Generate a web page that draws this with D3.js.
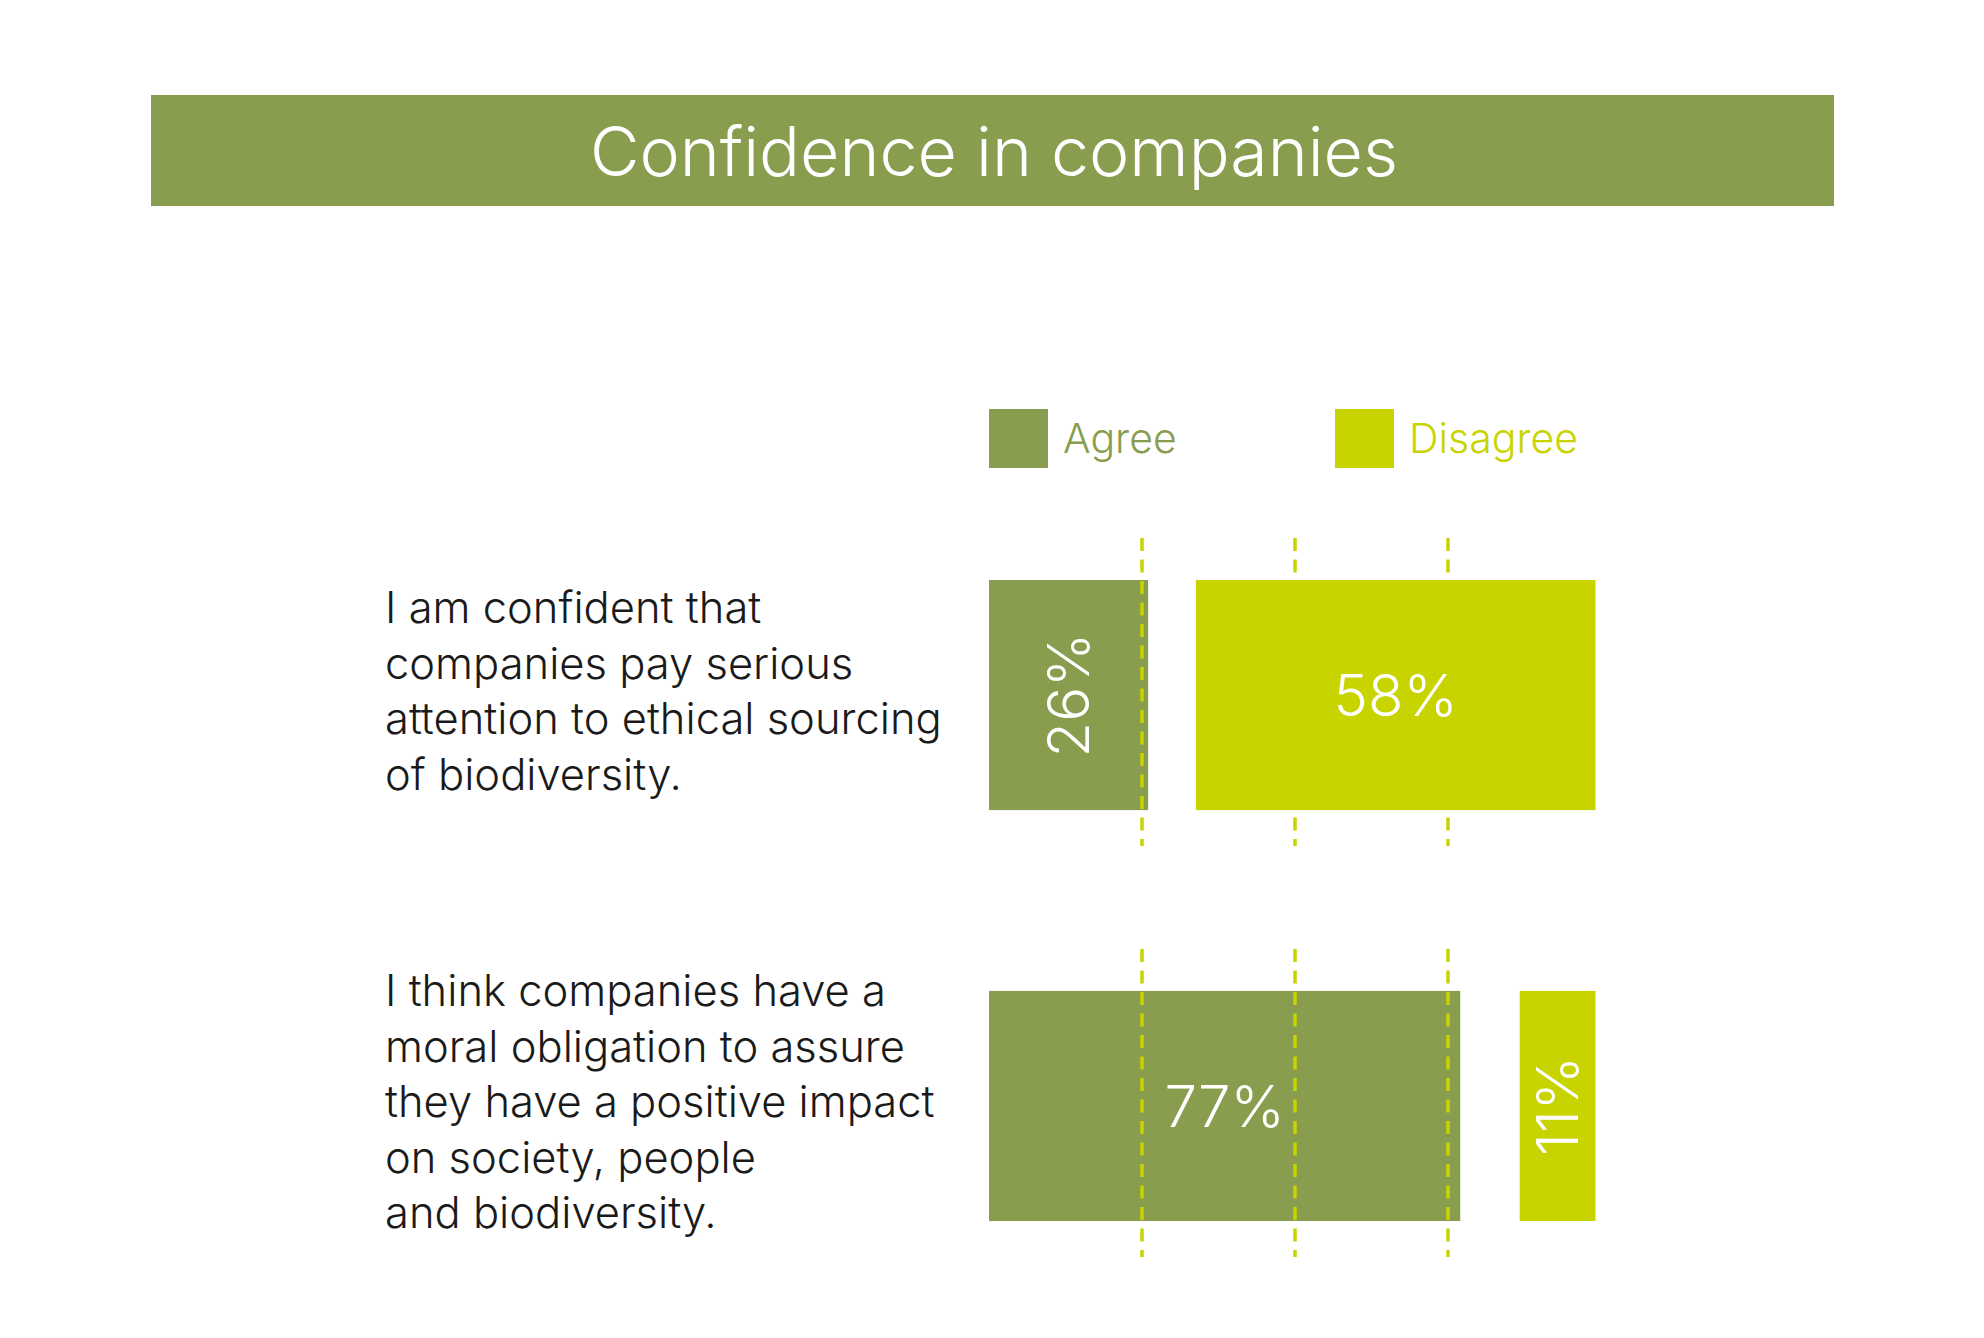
<!DOCTYPE html>
<html>
<head>
<meta charset="utf-8">
<script src="https://cdn.jsdelivr.net/npm/d3@7"></script>
<style>
  html, body { margin: 0; padding: 0; background: #fff; }
  svg { display: block; font-family: Inter, Roboto, "Liberation Sans", sans-serif; font-weight: 300; }
</style>
</head>
<body>
<svg id="chart" width="1984" height="1338"></svg>
<script>
// data
const title = 'Confidence in companies';
const series = ['Agree', 'Disagree'];
const questions = [
  ['I am confident that', 'companies pay serious', 'attention to ethical sourcing', 'of biodiversity.'],
  ['I think companies have a', 'moral obligation to assure', 'they have a positive impact', 'on society, people', 'and biodiversity.']
];
const agree = [26, 77];
const disagree = [58, 11];
const gridTicks = [25, 50, 75];

const COL_AGREE = '#889d4e';
const COL_DISAGREE = '#c8d400';

const svg = d3.select('#chart');

// scales: agree bars grow right from the left edge, disagree bars are right aligned
const xAgree = d3.scaleLinear().domain([0, 100]).range([989, 1601]);
const xDisagree = d3.scaleLinear().domain([0, 100]).range([1595.5, 906.5]);
const y = d3.scaleBand().domain(d3.range(questions.length)).range([580, 1221]).paddingInner(0.44);

// title bar
svg.append('rect')
  .attr('x', 151).attr('y', 95).attr('width', 1683).attr('height', 111)
  .attr('fill', COL_AGREE);
svg.append('text')
  .attr('x', 994).attr('y', 176)
  .attr('text-anchor', 'middle')
  .attr('fill', '#fff')
  .attr('font-size', 68)
  .text(title);

// legend
const legend = svg.append('g').selectAll('g')
  .data(series)
  .join('g')
  .attr('transform', (d, i) => `translate(${i ? 1335 : 989},409)`);
legend.append('rect')
  .attr('width', 59).attr('height', 59)
  .attr('fill', (d, i) => i ? COL_DISAGREE : COL_AGREE);
legend.append('text')
  .attr('x', 74).attr('y', 44)
  .attr('font-size', 41)
  .attr('fill', (d, i) => i ? COL_DISAGREE : COL_AGREE)
  .text(d => d);

// question labels
svg.append('g').selectAll('text')
  .data(questions)
  .join('text')
  .attr('x', 385)
  .attr('y', (d, i) => i ? 1006 : 623)
  .attr('font-size', 43.5)
  .attr('fill', '#1a1a1a')
  .selectAll('tspan')
  .data(d => d)
  .join('tspan')
  .attr('x', 385)
  .attr('dy', (d, i) => i ? 55.5 : 0)
  .text(d => d);

const rows = svg.append('g').selectAll('g')
  .data(d3.range(questions.length))
  .join('g');

// agree bars
rows.append('rect')
  .attr('x', xAgree(0))
  .attr('y', i => y(i))
  .attr('width', i => xAgree(agree[i]) - xAgree(0))
  .attr('height', y.bandwidth())
  .attr('fill', COL_AGREE);

// dashed reference lines
rows.selectAll('line')
  .data(i => gridTicks.map(t => ({ t, i })))
  .join('line')
  .attr('x1', d => xAgree(d.t)).attr('x2', d => xAgree(d.t))
  .attr('y1', d => y(d.i) - 42)
  .attr('y2', d => y(d.i) + y.bandwidth() + 36)
  .attr('stroke', COL_DISAGREE)
  .attr('stroke-width', 3.5)
  .attr('stroke-dasharray', '13 8.5');

// disagree bars
rows.append('rect')
  .attr('x', i => xDisagree(disagree[i]))
  .attr('y', i => y(i))
  .attr('width', i => xDisagree(0) - xDisagree(disagree[i]))
  .attr('height', y.bandwidth())
  .attr('fill', COL_DISAGREE);

// value labels: rotated when the bar is narrow
function addLabel(sel, xs, vals) {
  sel.append('text')
    .attr('transform', i => {
      const cx = (xs(0) + xs(vals[i])) / 2;
      const cy = y(i) + y.bandwidth() / 2;
      const narrow = Math.abs(xs(vals[i]) - xs(0)) < 200;
      return `translate(${cx},${cy})` + (narrow ? ' rotate(-90)' : '');
    })
    .attr('text-anchor', 'middle')
    .attr('dy', '0.36em')
    .attr('font-size', 58)
    .attr('fill', '#fff')
    .text(i => vals[i] + '%');
}
addLabel(rows, xAgree, agree);
addLabel(rows, xDisagree, disagree);
</script>
</body>
</html>
